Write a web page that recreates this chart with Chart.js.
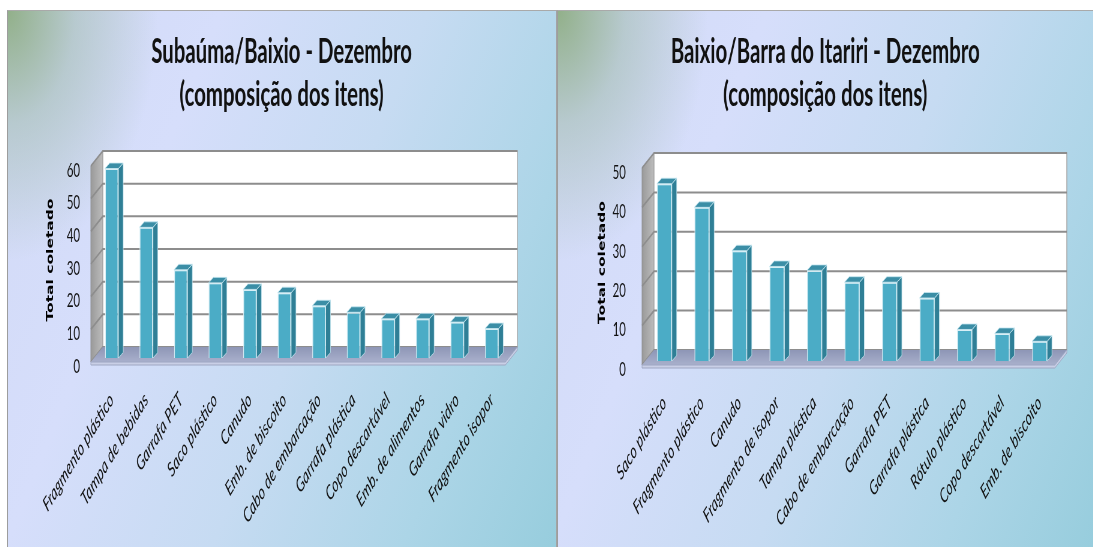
<!DOCTYPE html>
<html lang="pt-BR">
<head>
<meta charset="utf-8">
<title>Composição dos itens - Dezembro</title>
<script src="https://cdn.jsdelivr.net/npm/chart.js@4.4.1/dist/chart.umd.min.js"></script>
<style>
  html, body { margin: 0; padding: 0; background: #ffffff; width: 1093px; height: 547px; overflow: hidden; }
  .panel {
    position: absolute; top: 10px; height: 537px; box-sizing: border-box; overflow: hidden;
    border-left: 1.5px solid #9d9d9d; border-top: 1.5px solid #a9a9a9;
    background:
      radial-gradient(ellipse 150px 250px at 0 0, rgba(146,176,138,1) 0%, rgba(165,190,180,0.6) 45%, rgba(205,218,245,0) 100%),
      linear-gradient(112deg, #d2daf6 0%, #d6defb 28%, #c6dbf2 55%, #acd5e7 80%, #97cddd 100%);
  }
  #p1 { left: 7px; width: 550px; border-right: 1.5px solid #a3a3a3; }
  #p2 { left: 557px; width: 536px; }
  canvas { position: absolute; left: 0; top: 0; transform-origin: 0 0; transform: scaleX(0.6); }
</style>
</head>
<body>
<div class="panel" id="p1"><canvas id="c1" width="912" height="536" style="width:912px;height:536px"></canvas></div>
<div class="panel" id="p2"><canvas id="c2" width="891" height="536" style="width:891px;height:536px"></canvas></div>
<script>
// Subaúma/Baixio - itens coletados em dezembro
const itensSubauma = [
  'Fragmento plástico', 'Tampa de bebidas', 'Garrafa PET', 'Saco plástico', 'Canudo',
  'Emb. de biscoito', 'Cabo de embarcação', 'Garrafa plástica', 'Copo descartável',
  'Emb. de alimentos', 'Garrafa vidro', 'Fragmento isopor'
];
const totalSubauma = [58, 40, 27, 23, 21, 20, 16, 14, 12, 12, 11, 9];
const eixoSubauma = [0, 10, 20, 30, 40, 50, 60];

// Baixio/Barra do Itariri - itens coletados em dezembro
const itensItariri = [
  'Saco plástico', 'Fragmento plástico', 'Canudo', 'Fragmento de isopor', 'Tampa plástica',
  'Cabo de embarcação', 'Garrafa PET', 'Garrafa plástica', 'Rótulo plástico',
  'Copo descartável', 'Emb. de biscoito'
];
const totalItariri = [45, 39, 28, 24, 23, 20, 20, 16, 8, 7, 5];
const eixoItariri = [0, 10, 20, 30, 40, 50];

// Walls, floor and bar depth for the 3-D column look
const caixa3d = {
  id: 'caixa3d',
  beforeDatasetsDraw(chart, args, o) {
    const { ctx, chartArea } = chart;
    const L = chartArea.left, R = chartArea.right, T = chartArea.top, B = chartArea.bottom;
    const [bx, by] = o.back, [fx, fy] = o.front;
    const ys = chart.scales.y;
    ctx.save();
    // side wall
    const gs = ctx.createLinearGradient(L + fx, 0, L + bx, 0);
    gs.addColorStop(0, '#9a9a9a');
    gs.addColorStop(1, '#bdbdbd');
    ctx.beginPath();
    ctx.moveTo(L + fx, T + fy); ctx.lineTo(L + bx, T + by);
    ctx.lineTo(L + bx, B + by); ctx.lineTo(L + fx, B + fy); ctx.closePath();
    ctx.fillStyle = gs; ctx.fill();
    ctx.strokeStyle = '#8f8f8f'; ctx.lineWidth = 1; ctx.stroke();
    // back wall
    ctx.fillStyle = '#ffffff';
    ctx.fillRect(L + bx, T + by, R - L, B - T);
    ctx.strokeStyle = '#a8a8a8'; ctx.lineWidth = 1.5;
    ctx.strokeRect(L + bx, T + by, R - L, B - T);
    // gridlines over side wall and back wall
    ctx.strokeStyle = '#8d8d8d'; ctx.lineWidth = 2;
    ys.ticks.forEach(t => {
      const y = ys.getPixelForValue(t.value);
      ctx.beginPath();
      ctx.moveTo(L + fx, y + fy); ctx.lineTo(L + bx, y + by); ctx.lineTo(R + bx, y + by);
      ctx.stroke();
    });
    // floor
    ctx.beginPath();
    ctx.moveTo(L + fx, B + fy); ctx.lineTo(L + bx, B + by);
    ctx.lineTo(R + bx, B + by); ctx.lineTo(R + fx, B + fy); ctx.closePath();
    const gf = ctx.createLinearGradient(0, B + by, 0, B + fy);
    gf.addColorStop(0, '#8e96b6');
    gf.addColorStop(1, '#a9b0cc');
    ctx.fillStyle = gf; ctx.fill();
    // floor front edge
    ctx.beginPath();
    ctx.moveTo(L + fx, B + fy); ctx.lineTo(R + fx, B + fy);
    ctx.lineTo(R + bx, B + by); ctx.lineTo(R + bx, B + by + 3);
    ctx.lineTo(R + fx, B + fy + 3); ctx.lineTo(L + fx, B + fy + 3); ctx.closePath();
    ctx.fillStyle = '#c9cfe6'; ctx.fill();
    ctx.strokeStyle = '#9ea6c2'; ctx.lineWidth = 1; ctx.stroke();
    ctx.restore();
  },
  afterDatasetsDraw(chart, args, o) {
    const { ctx } = chart;
    const [sx, sy] = o.depth;
    ctx.save();
    chart.getDatasetMeta(0).data.forEach(bar => {
      const { x, y, base, width } = bar.getProps(['x', 'y', 'base', 'width'], true);
      const xl = x - width / 2, xr = x + width / 2;
      // side face
      ctx.beginPath();
      ctx.moveTo(xr, y); ctx.lineTo(xr + sx, y + sy);
      ctx.lineTo(xr + sx, base + sy); ctx.lineTo(xr, base); ctx.closePath();
      ctx.fillStyle = '#2f7f96'; ctx.fill();
      ctx.strokeStyle = 'rgba(200,232,242,0.8)'; ctx.lineWidth = 1; ctx.stroke();
      // top face
      ctx.beginPath();
      ctx.moveTo(xl, y); ctx.lineTo(xl + sx, y + sy);
      ctx.lineTo(xr + sx, y + sy); ctx.lineTo(xr, y); ctx.closePath();
      ctx.fillStyle = '#3b8ea6'; ctx.fill();
      ctx.stroke();
    });
    ctx.restore();
  }
};

function graficoItens(canvasId, titulo, itens, totais, eixo, g) {
  const canvas = document.getElementById(canvasId);
  const W = canvas.width, H = canvas.height;
  return new Chart(canvas, {
    type: 'bar',
    data: {
      labels: itens,
      datasets: [{
        data: totais,
        backgroundColor: '#4bacc6',
        borderColor: 'rgba(214,238,245,0.95)',
        borderWidth: 1.5,
        categoryPercentage: 1,
        barPercentage: g.barPct
      }]
    },
    options: {
      responsive: false,
      animation: false,
      devicePixelRatio: 1,
      layout: { padding: 0 },
      plugins: {
        legend: { display: false },
        tooltip: { enabled: false },
        title: {
          display: true,
          text: titulo,
          color: '#111111',
          font: { family: 'Lato', weight: 'bold', size: 34, lineHeight: 1.25 },
          padding: { top: 20, bottom: g.top - 20 - 85 }
        },
        caixa3d: { back: [14, -11], front: [-6, 4], depth: [8, -5.5] }
      },
      scales: {
        x: {
          grid: { display: false, drawTicks: false },
          border: { display: false },
          ticks: {
            autoSkip: false, minRotation: 45, maxRotation: 45,
            color: '#111111', padding: g.xPad,
            font: { family: 'Lato', style: 'italic', size: 20 }
          },
          afterFit: s => { s.height = H - g.bottom; }
        },
        y: {
          min: eixo[0], max: eixo[eixo.length - 1],
          afterBuildTicks: s => { s.ticks = eixo.map(v => ({ value: v })); },
          grid: { display: false, drawTicks: false },
          border: { display: false },
          ticks: {
            color: '#111111', padding: g.yPad, labelOffset: 8.6,
            font: { family: 'Lato', size: 19 }
          },
          title: {
            display: true, text: 'Total coletado', color: '#000000',
            font: { family: 'DejaVu Sans', weight: 'bold', size: 15.5 },
            padding: { top: g.titleX - 9.3, bottom: 0 }
          },
          afterFit: s => { s.width = g.left; }
        },
        // empty margin axis on the right, keeps the title centred on the panel
        margem: {
          type: 'linear', position: 'right', display: true,
          grid: { display: false, drawTicks: false },
          border: { display: false },
          ticks: { display: false },
          afterFit: s => { s.width = W - g.right; }
        }
      }
    },
    plugins: [caixa3d]
  });
}

graficoItens('c1', ['Subaúma/Baixio - Dezembro', '(composição dos itens)'],
  itensSubauma, totalSubauma, eixoSubauma,
  { left: 144, right: 835, top: 151, bottom: 347, barPct: 0.39, yPad: 24, xPad: 30, titleX: 71 });

graficoItens('c2', ['Baixio/Barra do Itariri - Dezembro', '(composição dos itens)'],
  itensItariri, totalItariri, eixoItariri,
  { left: 146, right: 834, top: 153, bottom: 350, barPct: 0.40, yPad: 33, xPad: 30, titleX: 74 });
</script>
</body>
</html>
